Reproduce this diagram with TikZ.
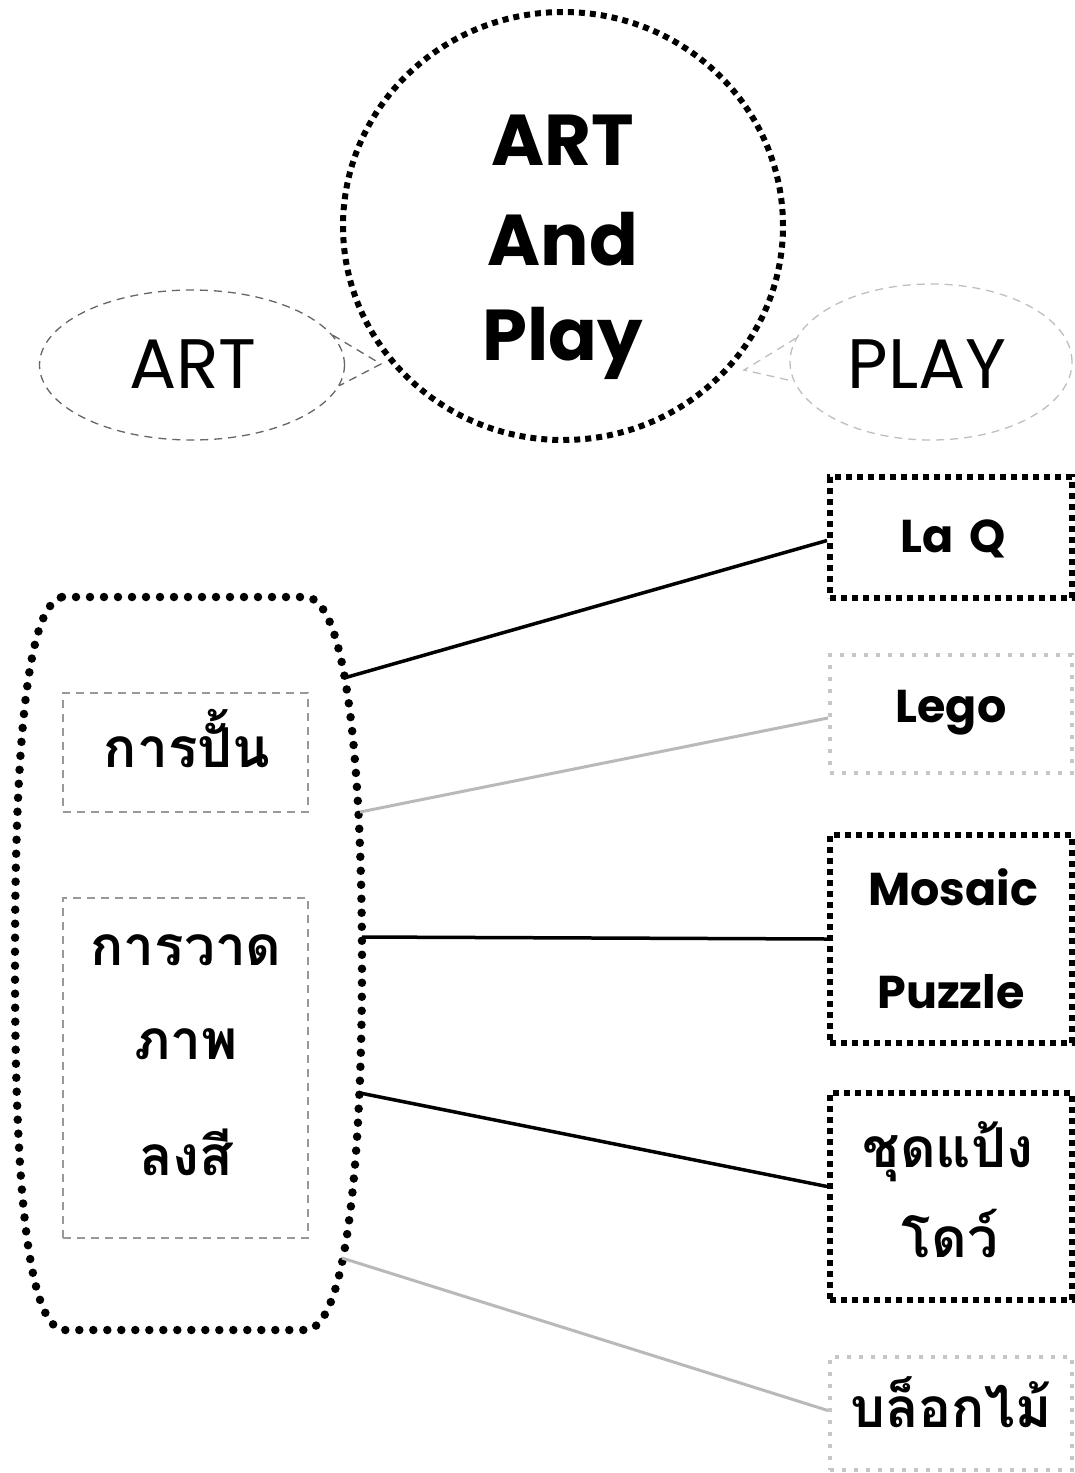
\documentclass[tikz,border=0pt]{standalone}
\usepackage{fontspec}
\setmainfont{Poppins}
\newfontfamily\thaifont[Script=Thai]{Loma}
\usetikzlibrary{shapes.geometric}
\begin{document}
\begin{tikzpicture}[x=1pt,y=-1pt,
  sqdots/.style={line width=6pt, dash pattern=on 6pt off 5pt},
  sqdotsgray/.style={line width=4pt, dash pattern=on 4pt off 8pt, draw=gray!45},
  rounddots/.style={line width=8.5pt, line cap=round, dash pattern=on 0pt off 14pt},
  thindash/.style={line width=1.3pt, dash pattern=on 8pt off 6pt},
  bigtxt/.style={font=\fontsize{72}{76}\selectfont\bfseries, anchor=base, inner sep=0pt},
  midtxt/.style={font=\fontsize{70}{74}\selectfont, anchor=base, inner sep=0pt},
  boxtxt/.style={font=\fontsize{46}{50}\selectfont\bfseries, anchor=base, inner sep=0pt},
  thaitxt/.style={font=\fontsize{55}{60}\selectfont\thaifont\bfseries, anchor=base, inner sep=0pt},
  conn/.style={line width=3.5pt},
  conngray/.style={line width=3pt, draw=gray!55}
]
\useasboundingbox (0,0) rectangle (1075,1473);
\fill[white] (0,0) rectangle (1075,1473);

% top
\node[ellipse, draw, sqdots, minimum width=440pt, minimum height=428pt, inner sep=0pt] (main) at (563,226) {};
\node[bigtxt] (m1) at (563,165) {ART};
\node[bigtxt] (m2) at (563,265) {And};
\node[bigtxt] (m3) at (563,360) {Play};

\node[ellipse, draw=black!60, thindash, minimum width=305pt, minimum height=150pt, inner sep=0pt] (art) at (192,365) {};
\node[midtxt] (artt) at (193,388) {ART};
\node[ellipse, draw=gray!50, thindash, minimum width=282pt, minimum height=156pt, inner sep=0pt] (play) at (931,362) {};
\node[midtxt] (playt) at (927,388) {PLAY};

\coordinate (arttip) at (381,364);
\coordinate (playtip) at (744,370);
\draw[thindash, black!60] (art.12) -- (arttip) -- (art.-8);
\draw[thindash, gray!50] (play.170) -- (playtip) -- (play.188);

% left group
\node[minimum width=347pt, minimum height=733pt] (grp) at (188.5,963.5) {};
\draw[rounddots] (62,597) -- (308,597)
  .. controls (350,606) and (362,790) .. (362,963)
  .. controls (362,1136) and (350,1320) .. (308,1330)
  -- (62,1330)
  .. controls (22,1320) and (15,1136) .. (15,963)
  .. controls (15,790) and (22,606) .. (62,597) -- cycle;
\node[draw=gray!80, thindash, minimum width=245pt, minimum height=119pt] (b1) at (185.5,752.5) {};
\node[thaitxt] (b1t) at (187,767) {การปั้น};
\node[draw=gray!80, thindash, minimum width=245pt, minimum height=340pt] (b2) at (185.5,1068) {};
\node[thaitxt] (b2t1) at (186,965) {การวาด};
\node[thaitxt] (b2t2) at (186,1059) {ภาพ};
\node[thaitxt] (b2t3) at (186,1175) {ลงสี};

% right boxes
\node[draw, sqdots, minimum width=242pt, minimum height=121pt] (laq) at (951,537.5) {};
\node[boxtxt] (laqt) at (953,552) {La\hspace{0.35em}Q};
\node[draw, sqdotsgray, minimum width=242pt, minimum height=118pt] (lego) at (951,714) {};
\node[boxtxt] (legot) at (951,722) {Lego};
\node[draw, sqdots, minimum width=242pt, minimum height=208pt] (mos) at (951,939) {};
\node[boxtxt] (most1) at (953,905) {Mosaic};
\node[boxtxt] (most2) at (951,1008) {Puzzle};
\node[draw, sqdots, minimum width=242pt, minimum height=207pt] (dough) at (951,1196.5) {};
\node[thaitxt] (dought1) at (948,1167) {ชุดแป้ง};
\node[thaitxt] (dought2) at (950,1257) {โดว์};
\node[draw, sqdotsgray, minimum width=242pt, minimum height=113pt] (block) at (951,1413.5) {};
\node[thaitxt] (blockt) at (951,1427) {บล็อกไม้};

% connectors
\coordinate (c1) at (344,678);
\coordinate (c2) at (360,812);
\coordinate (c3) at (362,937);
\coordinate (c4) at (360,1093);
\coordinate (c5) at (342,1258);
\draw[conn] (c1) -- ([yshift=-3pt]laq.west);
\draw[conngray] (c2) -- ([yshift=-4pt]lego.west);
\draw[conn] (c3) -- (mos.west);
\draw[conn] (c4) -- ([yshift=10pt]dough.west);
\draw[conngray] (c5) -- ([yshift=3pt]block.west);
\end{tikzpicture}
\end{document}
